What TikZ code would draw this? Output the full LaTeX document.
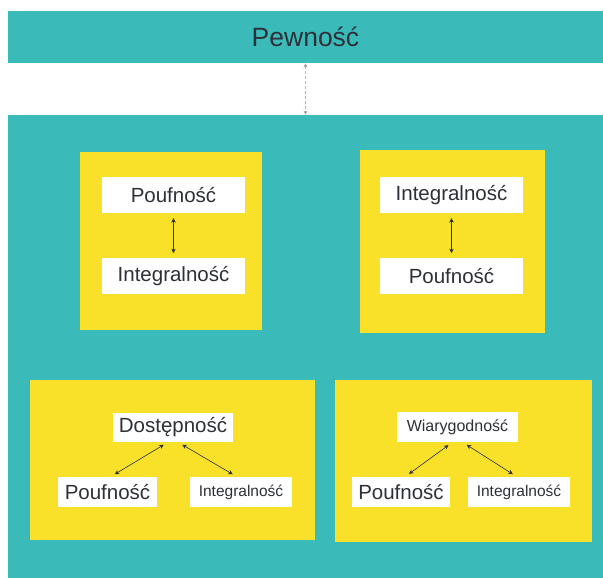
\documentclass[tikz,border=0pt]{standalone}
\usepackage{fontspec}
\setmainfont{Liberation Sans}
\usetikzlibrary{arrows.meta,positioning}

\definecolor{teal1}{RGB}{58,187,185}
\definecolor{sun}{RGB}{248,225,40}
\definecolor{ink}{RGB}{45,48,56}

\begin{document}
\begin{tikzpicture}[
    x=1pt, y=-1pt,
    node distance=45pt,
    every node/.style={text=ink, inner sep=0pt},
    band/.style={rectangle, fill=teal1, minimum width=595pt},
    panel/.style={rectangle, fill=sun},
    item/.style={rectangle, fill=white, minimum width=143pt, minimum height=36pt, font=\fontsize{20.5}{24}\selectfont},
    leaf/.style={rectangle, fill=white, minimum height=30pt, font=\fontsize{20.5}{24}\selectfont},
    smallleaf/.style={leaf, font=\fontsize{15.5}{18}\selectfont},
    link/.style={{Stealth[length=4.5pt,width=4.5pt]}-{Stealth[length=4.5pt,width=4.5pt]}, draw=ink, line width=0.6pt, shorten <=5pt, shorten >=5pt},
    uplink/.style={{Stealth[length=4.5pt,width=4pt,fill=ink]}-{Stealth[length=4.5pt,width=4pt,fill=ink]}, draw=gray!60, densely dashed, line width=0.5pt}
]

\useasboundingbox[fill=white] (0,0) rectangle (603,578);

% Top band and main area
\node[band, minimum height=52pt, font=\fontsize{26.5}{30}\selectfont] (top) at (305.5,37) {Pewność};
\node[band, minimum height=463pt] (main) at (305.5,346.5) {};

% Yellow panels
\node[panel, minimum width=182pt, minimum height=178pt] (panel-a) at (171,241) {};
\node[panel, minimum width=185pt, minimum height=183pt] (panel-b) at (452.5,241.5) {};
\node[panel, minimum width=285pt, minimum height=160pt] (panel-c) at (172.5,460) {};
\node[panel, minimum width=257pt, minimum height=162pt] (panel-d) at (463.5,461) {};

% Panel a
\node[item] (a-pouf) at (173.5,195) {Poufność};
\node[item, below=of a-pouf] (a-integ) {Integralność};

% Panel b
\node[item] (b-integ) at (451.5,195) {Integralność};
\node[item, below=of b-integ] (b-pouf) {Poufność};

% Panel c
\node[leaf, minimum width=120pt, minimum height=29pt] (c-dost) at (173,427.5) {Dostępność};
\node[leaf, minimum width=99pt] (c-pouf) at (107.5,492) {Poufność};
\node[smallleaf, minimum width=102pt] (c-integ) at (241,492) {Integralność};

% Panel d
\node[smallleaf, minimum width=121pt, font=\fontsize{16}{19}\selectfont] (d-wiar) at (457.5,427) {Wiarygodność};
\node[leaf, minimum width=98pt] (d-pouf) at (401,492) {Poufność};
\node[smallleaf, minimum width=102pt] (d-integ) at (519,492) {Integralność};

% Links
\draw[uplink] (top.south) -- (main.north);
\draw[link] (a-pouf) -- (a-integ);
\draw[link] (b-integ) -- (b-pouf);
\draw[link] ([xshift=-5pt]c-dost.south) -- ([xshift=3pt]c-pouf.north);
\draw[link] ([xshift=5pt]c-dost.south) -- ([xshift=-4pt]c-integ.north);
\draw[link] ([xshift=-5pt]d-wiar.south) -- ([xshift=4pt]d-pouf.north);
\draw[link] ([xshift=5pt]d-wiar.south) -- ([xshift=-2pt]d-integ.north);

\end{tikzpicture}
\end{document}
